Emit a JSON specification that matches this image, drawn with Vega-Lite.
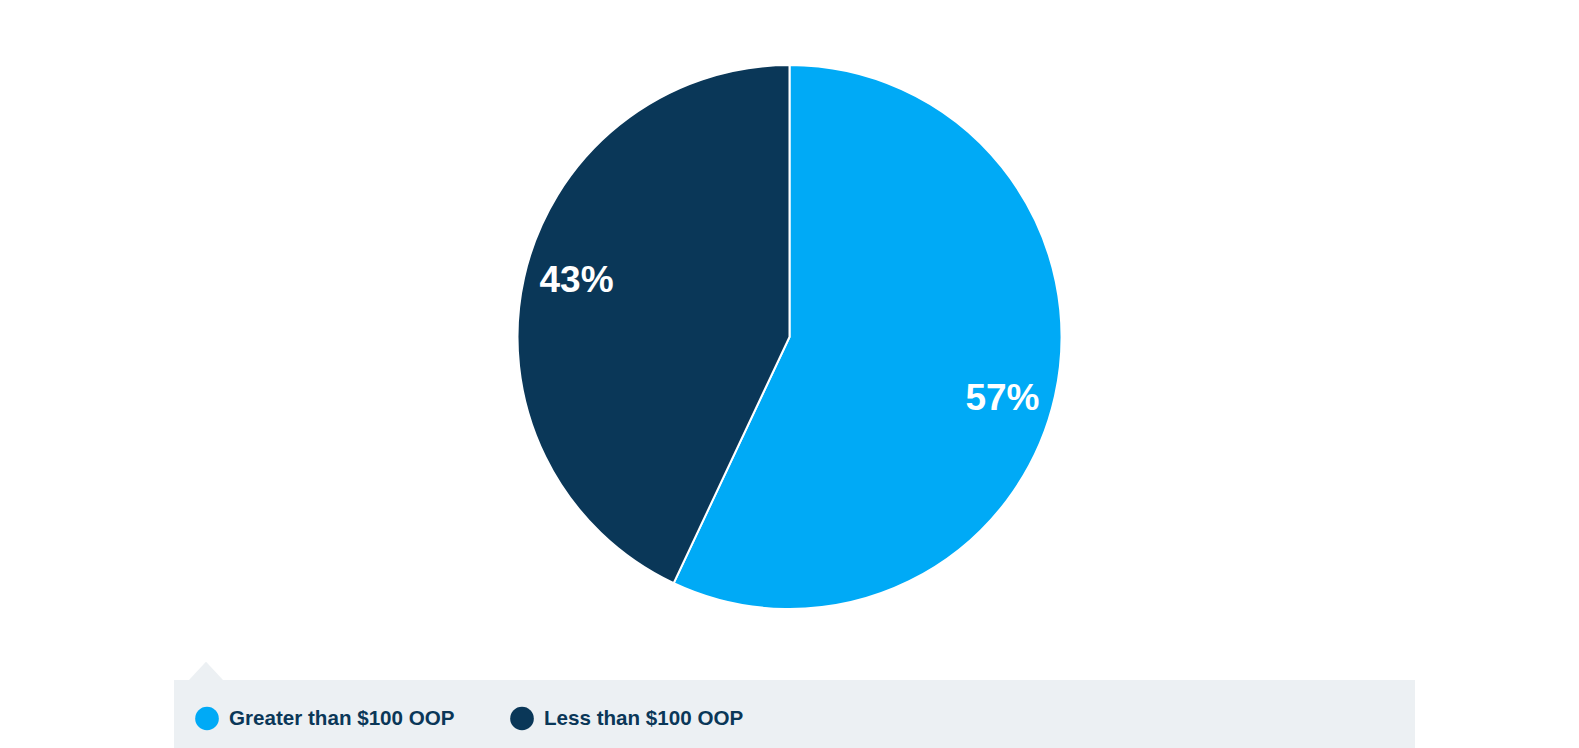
{
  "$schema": "https://vega.github.io/schema/vega-lite/v6.json",
  "padding": {"left": 174, "top": 0, "right": 0, "bottom": 0},
  "bounds": "flush",
  "spacing": 6,
  "config": {
    "view": {"stroke": null},
    "font": "Liberation Sans"
  },
  "datasets": {
    "shares": [
      {"category": "Greater than $100 OOP", "share": 0.57},
      {"category": "Less than $100 OOP", "share": 0.43}
    ]
  },
  "vconcat": [
    {
      "width": 1231,
      "height": 674,
      "data": {"name": "shares"},
      "encoding": {
        "theta": {"field": "share", "type": "quantitative", "stack": true},
        "color": {
          "field": "category",
          "type": "nominal",
          "scale": {"domain": ["Greater than $100 OOP", "Less than $100 OOP"], "range": ["#00aaf6", "#0a3758"]},
          "legend": null
        },
        "order": {"field": "category", "sort": "ascending"}
      },
      "layer": [
        {
          "mark": {"type": "arc", "outerRadius": 272, "stroke": "#ffffff", "strokeWidth": 2}
        },
        {
          "mark": {"type": "text", "radius": 221, "thetaOffset": 0.05, "dy": 3, "fontSize": 37, "fontWeight": "bold", "fill": "#ffffff", "align": "center", "baseline": "middle"},
          "encoding": {
            "text": {"field": "share", "type": "quantitative", "format": ".0%"},
            "color": {"value": "#ffffff"}
          }
        }
      ]
    },
    {
      "width": 1241,
      "height": 77,
      "view": {"fill": "#ecf0f3", "stroke": null},
      "data": {"name": "shares"},
      "encoding": {
        "x": {
          "field": "category",
          "type": "nominal",
          "axis": null,
          "scale": {"type": "point", "domain": ["Greater than $100 OOP", "Less than $100 OOP"], "padding": 0, "range": [33, 348]}
        }
      },
      "layer": [
        {
          "transform": [{"filter": "datum.category === 'Greater than $100 OOP'"}],
          "mark": {"type": "point", "shape": "M-1,0L0,-1.08L1,0Z", "size": 1156, "filled": true, "fill": "#ecf0f3", "opacity": 1, "strokeWidth": 0, "yOffset": -38.5, "xOffset": -1}
        },
        {
          "mark": {"type": "point", "shape": "circle", "size": 560, "filled": true, "opacity": 1},
          "encoding": {
            "color": {"field": "category", "type": "nominal", "legend": null}
          }
        },
        {
          "mark": {"type": "text", "align": "left", "baseline": "middle", "dx": 22, "fontSize": 20.6, "fontWeight": "bold", "fill": "#0a3758"},
          "encoding": {
            "text": {"field": "category", "type": "nominal"}
          }
        }
      ]
    }
  ]
}
